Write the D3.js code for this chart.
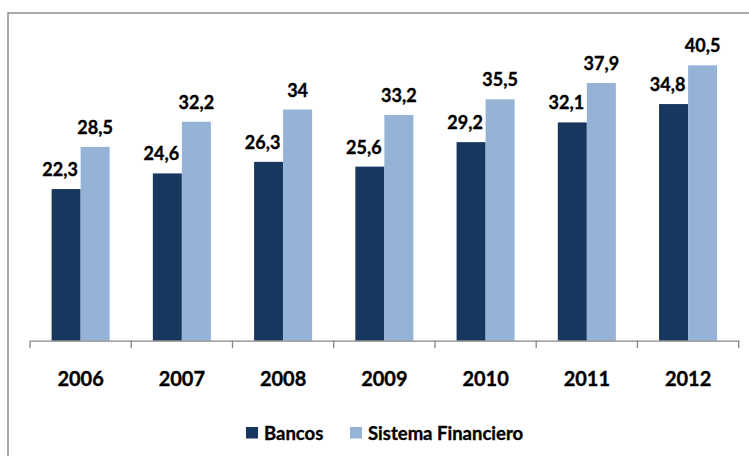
<!DOCTYPE html>
<html>
<head>
<meta charset="utf-8">
<script src="https://cdn.jsdelivr.net/npm/d3@7"></script>
<style>
  body { margin: 0; background: #ffffff; }
  svg { display: block; font-family: Lato, "Open Sans", sans-serif; }
  .lbl { stroke: #000; stroke-width: 0.35px; }
</style>
</head>
<body>
<svg width="749" height="456"></svg>
<script>
// Chart data
var years = ["2006", "2007", "2008", "2009", "2010", "2011", "2012"];
var seriesNames = ["Bancos", "Sistema Financiero"];
var bancos = [22.3, 24.6, 26.3, 25.6, 29.2, 32.1, 34.8];
var sistema = [28.5, 32.2, 34, 33.2, 35.5, 37.9, 40.5];
var colors = ["#17375E", "#95B3D7"];

var svg = d3.select("svg"),
  width = +svg.attr("width"),
  height = +svg.attr("height");

// outer frame (runs off the right and bottom edge like the original)
svg.append("rect")
  .attr("x", 8)
  .attr("y", 13)
  .attr("width", 760)
  .attr("height", 470)
  .attr("fill", "none")
  .attr("stroke", "#8e8e8e")
  .attr("stroke-width", 1.5);

var axisY = 340.7;

// one band per year, no padding so ticks sit on band edges
var x0 = d3.scaleBand()
  .domain(years)
  .range([30, 738.7])
  .padding(0);

var x1 = d3.scaleBand()
  .domain(seriesNames)
  .range([21.6, x0.bandwidth() - 21.6])
  .padding(0);

var y = d3.scaleLinear()
  .domain([0, 45])
  .range([axisY, axisY - 306]);

var rows = years.map(function(yr, i) {
  return { year: yr, values: [
    { name: seriesNames[0], value: bancos[i] },
    { name: seriesNames[1], value: sistema[i] }
  ]};
});

var groups = svg.append("g")
  .selectAll("g")
  .data(rows)
  .enter().append("g")
  .attr("transform", function(d) { return "translate(" + x0(d.year) + ",0)"; });

groups.selectAll("rect")
  .data(function(d) { return d.values; })
  .enter().append("rect")
  .attr("x", function(d) { return x1(d.name); })
  .attr("y", function(d) { return y(d.value); })
  .attr("width", x1.bandwidth())
  .attr("height", function(d) { return axisY - y(d.value); })
  .attr("fill", function(d, i) { return colors[i]; });

// value labels (Bancos labels nudged left, as in the source)
groups.selectAll("text")
  .data(function(d) { return d.values; })
  .enter().append("text")
  .attr("class", "lbl")
  .attr("x", function(d, i) { return x1(d.name) + x1.bandwidth() / 2 + (i === 0 ? -6 : 0); })
  .attr("y", function(d) { return y(d.value) - 13; })
  .attr("text-anchor", "middle")
  .attr("font-size", "18px")
  .attr("font-weight", "bold")
  .attr("fill", "#000")
  .text(function(d) { return d3.format(".1f")(d.value).replace(".", ",").replace(",0", ""); });

// category axis
var xAxis = d3.axisBottom(x0).tickSize(0).tickPadding(0);
var gx = svg.append("g")
  .attr("transform", "translate(0," + axisY + ")")
  .call(xAxis);
gx.select(".domain").attr("stroke", "#868686").attr("stroke-width", 1.3);
gx.selectAll(".tick text")
  .attr("class", "lbl")
  .attr("y", 45)
  .attr("dy", 0)
  .attr("font-size", "20px")
  .attr("font-weight", "bold")
  .attr("font-family", "Lato, sans-serif")
  .attr("fill", "#000");

// tick marks on band boundaries
var edges = years.map(function(yr) { return x0(yr); }).concat([x0.range()[1]]);
gx.selectAll(".edge")
  .data(edges)
  .enter().append("line")
  .attr("class", "edge")
  .attr("x1", function(d) { return d; })
  .attr("x2", function(d) { return d; })
  .attr("y1", 0)
  .attr("y2", 7.5)
  .attr("stroke", "#868686")
  .attr("stroke-width", 1.3);

// legend
var legend = svg.append("g").attr("transform", "translate(246,427)");
var legendX = [0, 104];
seriesNames.forEach(function(name, i) {
  var item = legend.append("g").attr("transform", "translate(" + legendX[i] + ",0)");
  item.append("rect")
    .attr("width", 12)
    .attr("height", 11.5)
    .attr("fill", colors[i]);
  item.append("text")
    .attr("class", "lbl")
    .attr("x", 18)
    .attr("y", 13)
    .attr("font-size", "18.5px")
    .attr("font-weight", "bold")
    .attr("fill", "#000")
    .text(name);
});
</script>
</body>
</html>
